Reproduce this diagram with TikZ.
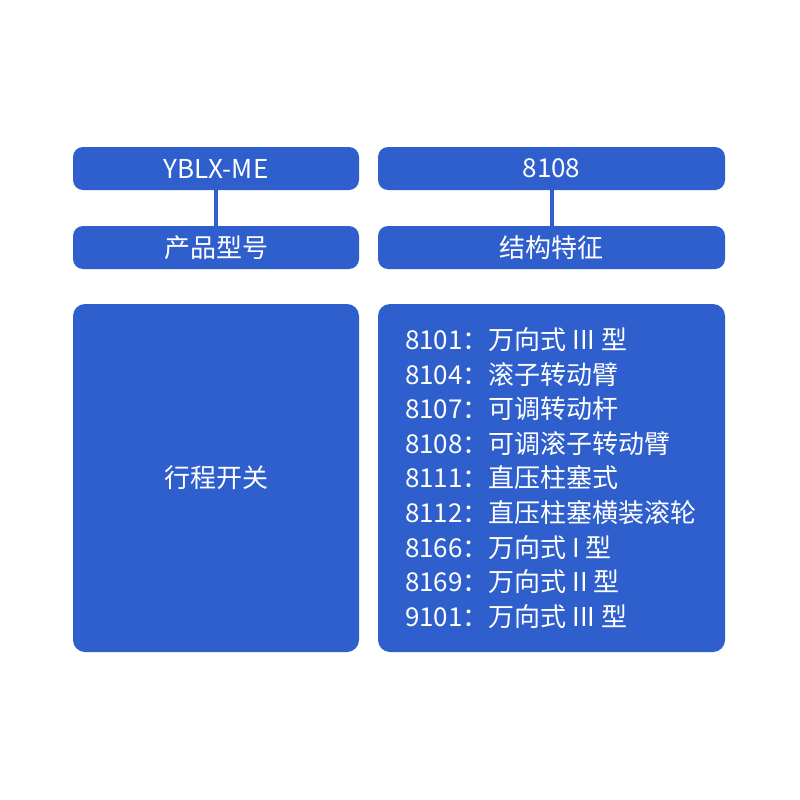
\documentclass[tikz,border=0pt]{standalone}
\usepackage{fontspec}
\setmainfont{Noto Sans CJK SC}
\usepackage{xcolor}
\usetikzlibrary{positioning}
\definecolor{boxblue}{RGB}{46,95,204}

\begin{document}
\begin{tikzpicture}[x=1pt,y=-1pt,
      bluebox/.style={fill=boxblue, rounded corners=10pt, text=white,
        inner sep=0pt, font=\fontsize{26}{30}\selectfont},
      smallbox/.style={bluebox, minimum height=43pt},
      bigbox/.style={bluebox, rounded corners=12pt, minimum height=348pt},
      link/.style={draw=boxblue, line width=4pt},
      listtext/.style={text=white, align=left, inner sep=0pt,
        font=\fontsize{26}{34.6}\selectfont}]
      \useasboundingbox[fill=white] (0,0) rectangle (800,800);
      % top row
      \node[smallbox, minimum width=286pt] (model) at (216,168.5) {YBLX-ME};
      \node[smallbox, minimum width=347pt] (code) at (551.5,168.5) {8108};
      % second row
      \node[smallbox, minimum width=286pt] (modelname) at (216,247.5) {产品型号};
      \node[smallbox, minimum width=347pt] (codename) at (551.5,247.5) {结构特征};
      \draw[link] (model.south) -- (modelname.north);
      \draw[link] (code.south) -- (codename.north);
      % big boxes
      \node[bigbox, minimum width=286pt] (product) at (216,478) {行程开关};
      \node[bigbox, minimum width=347pt] (features) at (551.5,478) {};
      \node[listtext, anchor=west] (featlist) at ([xshift=27pt]features.west)
        {8101：万向式 III 型\\
         8104：滚子转动臂\\
         8107：可调转动杆\\
         8108：可调滚子转动臂\\
         8111：直压柱塞式\\
         8112：直压柱塞横装滚轮\\
         8166：万向式 I 型\\
         8169：万向式 II 型\\
         9101：万向式 III 型};
\end{tikzpicture}
\end{document}
